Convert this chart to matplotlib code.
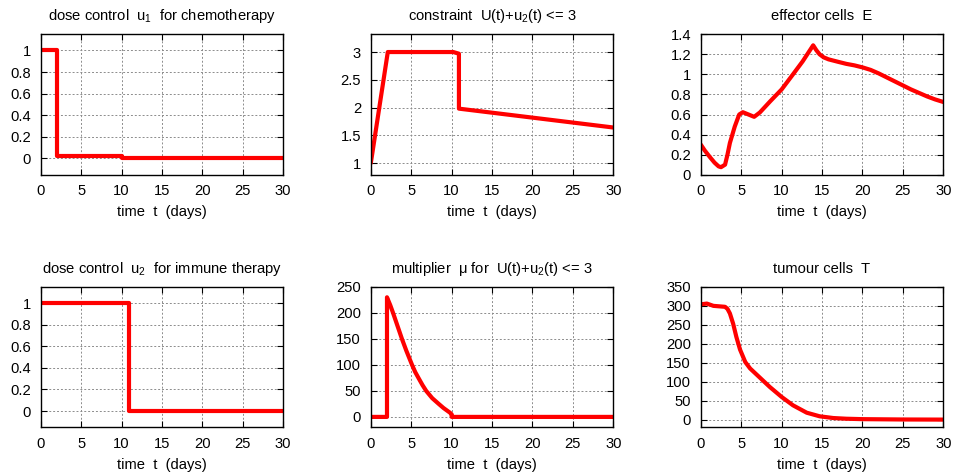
import numpy as np
import matplotlib.pyplot as plt
from matplotlib.ticker import MultipleLocator, FormatStrFormatter

plt.rcParams['font.family'] = ['Liberation Sans', 'DejaVu Sans']
plt.rcParams['mathtext.fontset'] = 'custom'
plt.rcParams['mathtext.rm'] = 'Liberation Sans'
plt.rcParams['mathtext.it'] = 'Liberation Sans'

# optimal control solution, time in days
u1_t = [0, 2.0, 2.0, 10.0, 10.0, 30]
u1 = [1, 1, 0.02, 0.02, 0, 0]

cons_t = [0, 2.1, 10.2, 10.9, 10.9, 30]
cons = [1, 3, 3, 2.97, 1.98, 1.64]

E_t = [0, 0.5, 1.15, 1.7, 2.2, 2.5, 3.0, 3.3, 3.6, 4.2, 4.75, 5.2, 5.9, 6.6, 7.3,
       8.6, 10, 11.4, 12.6, 13.9, 14.3, 14.7, 15.2, 15.8, 17, 18, 19, 20, 21, 22,
       23, 24, 25, 26, 27, 28, 29, 30]
E = [0.30, 0.24, 0.173, 0.12, 0.083, 0.075, 0.10, 0.20, 0.317, 0.48, 0.60, 0.623,
     0.60, 0.577, 0.62, 0.733, 0.85, 1.0, 1.13, 1.29, 1.24, 1.2, 1.17, 1.15, 1.125,
     1.105, 1.09, 1.07, 1.045, 1.01, 0.97, 0.93, 0.89, 0.85, 0.815, 0.78, 0.75, 0.725]

u2_t = [0, 10.9, 10.9, 30]
u2 = [1, 1, 0, 0]

mu_t = [0, 2.0, 2.0, 2.4, 2.75, 3.3, 3.85, 4.4, 5.1, 5.5, 6.0, 6.4, 6.85, 7.6, 8.4,
        9.0, 9.4, 9.8, 10.0, 10.0, 30]
mu = [0, 0, 230, 215, 200, 175, 150, 127, 100, 86, 72, 61, 50, 36, 25,
      17, 12.5, 8, 5, 0, 0]

T_t = [0, 0.75, 1.56, 3.0, 3.3, 3.6, 4.0, 4.4, 4.85, 5.5, 6.1, 7.1, 8.55, 10, 11.4,
       13.1, 14.7, 16.4, 18, 20, 25, 30]
T = [304, 306, 300, 297.5, 292, 280, 253, 218, 185, 152, 135, 115, 86, 60, 38,
     18.5, 9, 4.4, 2.6, 1.5, 0.6, 0.3]

panels = [
    (u1_t, u1, 'dose control  u$_1$  for chemotherapy', (-0.15, 1.15), 0.2),
    (cons_t, cons, 'constraint  U(t)+u$_2$(t) <= 3', (0.79, 3.32), 0.5),
    (E_t, E, 'effector cells  E', (0, 1.4), 0.2),
    (u2_t, u2, 'dose control  u$_2$  for immune therapy', (-0.15, 1.15), 0.2),
    (mu_t, mu, 'multiplier  μ for  U(t)+u$_2$(t) <= 3', (-20, 250), 50),
    (T_t, T, 'tumour cells  T', (-20, 350), 50),
]

fig = plt.figure(figsize=(9.54, 4.76), dpi=100)
lefts = [0.0427, 0.3887, 0.7346]
bottoms = [0.633, 0.1023]
for i, (t, y, title, ylim, step) in enumerate(panels):
    ax = fig.add_axes([lefts[i % 3], bottoms[i // 3], 0.2542, 0.295])
    ax.plot(t, y, color='#ff0000', lw=3.0, solid_joinstyle='round',
            solid_capstyle='round')
    ax.set_xlim(0, 30)
    ax.set_ylim(*ylim)
    ax.xaxis.set_major_locator(MultipleLocator(5))
    ax.yaxis.set_major_locator(MultipleLocator(step))
    ax.yaxis.set_major_formatter(FormatStrFormatter('%g'))
    ax.grid(True, color='#8c8c8c', linestyle=(0, (2, 2)), lw=0.7)
    ax.tick_params(direction='in', top=True, right=True, length=4,
                   labelsize=10.6, pad=7)
    for s in ax.spines.values():
        s.set_linewidth(1.0)
    ax.set_title(title, fontsize=10.6, pad=10)
    ax.set_xlabel('time  t  (days)', fontsize=10.6, labelpad=5)

fig.savefig('out.png', dpi=100)
